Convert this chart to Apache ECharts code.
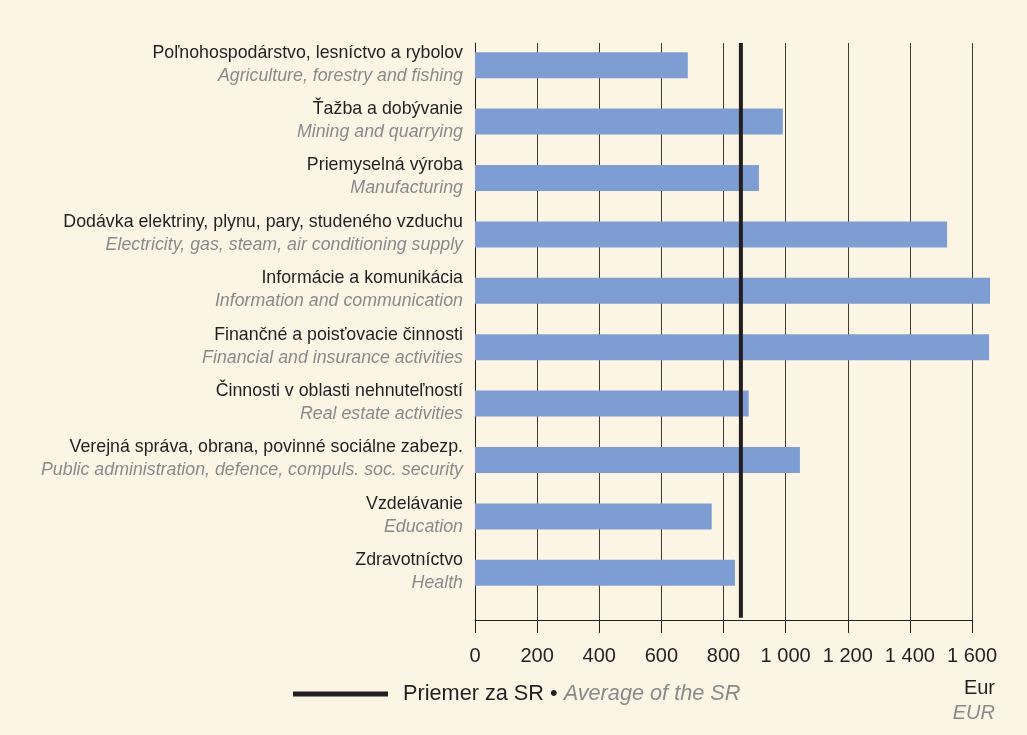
<!DOCTYPE html>
<html>
<head>
<meta charset="utf-8">
<script src="https://cdn.jsdelivr.net/npm/echarts@6/dist/echarts.min.js"></script>
<style>
  html, body { margin: 0; padding: 0; background: #fdf5e4; }
  #chart { width: 1027px; height: 735px; }
</style>
</head>
<body>
<div id="chart"></div>
<script>
// sectors, Slovak / English
const sectorsSk = [
    'Poľnohospodárstvo, lesníctvo a rybolov',
    'Ťažba a dobývanie',
    'Priemyselná výroba',
    'Dodávka elektriny, plynu, pary, studeného vzduchu',
    'Informácie a komunikácia',
    'Finančné a poisťovacie činnosti',
    'Činnosti v oblasti nehnuteľností',
    'Verejná správa, obrana, povinné sociálne zabezp.',
    'Vzdelávanie',
    'Zdravotníctvo'
];
const sectorsEn = [
    'Agriculture, forestry and fishing',
    'Mining and quarrying',
    'Manufacturing',
    'Electricity, gas, steam, air conditioning supply',
    'Information and communication',
    'Financial and insurance activities',
    'Real estate activities',
    'Public administration, defence, compuls. soc. security',
    'Education',
    'Health'
];
const wages = [685, 991, 914, 1520, 1658, 1655, 881, 1046, 762, 837];
const averageSR = 856;
const tickLabels = ['0', '200', '400', '600', '800', '1 000', '1 200', '1 400', '1 600'];
const legendSk = 'Priemer za SR • ';
const legendEn = 'Average of the SR';
const unitSk = 'Eur';
const unitEn = 'EUR';

const FONT = '"Liberation Sans", Arial, sans-serif';
const INK = '#231f20';
const GREY = '#8a8a8a';

const chart = echarts.init(document.getElementById('chart'), null, { renderer: 'canvas' });

chart.setOption({
    backgroundColor: '#fdf5e4',
    animation: false,
    textStyle: { fontFamily: FONT },
    grid: [
        { left: 475, right: 55, top: 37, bottom: 134 },
        { left: 475, right: 55, top: 43, bottom: 115 }
    ],
    xAxis: [
        { gridIndex: 0, type: 'value', min: 0, max: 1600, show: false },
        {
            gridIndex: 1, type: 'value', min: 0, max: 1600, interval: 200,
            axisLine: { lineStyle: { color: INK, width: 1 } },
            axisTick: { length: 13, lineStyle: { color: INK } },
            axisLabel: {
                margin: 26, fontSize: 20, color: INK, fontFamily: FONT,
                formatter: v => tickLabels[Math.round(v / 200)]
            },
            splitLine: { lineStyle: { color: '#3d3936', width: 1 } }
        }
    ],
    yAxis: [
        {
            gridIndex: 0, type: 'category', inverse: true, data: sectorsSk,
            axisLine: { show: false }, axisTick: { show: false },
            axisLabel: {
                margin: 12, align: 'right', padding: [0, 0, 2, 0],
                formatter: (v, i) => '{a|' + v + '}\n{b|' + sectorsEn[i] + '}',
                rich: {
                    a: { fontSize: 17.8, color: INK, lineHeight: 23, fontFamily: FONT, align: 'right' },
                    b: { fontSize: 17.8, color: GREY, fontStyle: 'italic', lineHeight: 23, fontFamily: FONT, align: 'right' }
                }
            }
        },
        {
            gridIndex: 1, type: 'value', min: 0, max: 1,
            axisLine: { show: true, lineStyle: { color: INK, width: 1 } },
            axisTick: { show: false }, axisLabel: { show: false }, splitLine: { show: false }
        }
    ],
    legend: {
        left: 288, top: 678,
        icon: 'rect', itemWidth: 95, itemHeight: 5,
        data: ['avg'],
        formatter: () => '{a|' + legendSk + '}{b|' + legendEn + '}',
        textStyle: {
            rich: {
                a: { fontSize: 21.7, color: INK, fontFamily: FONT, padding: [0, 0, 0, 10] },
                b: { fontSize: 21.7, color: GREY, fontStyle: 'italic', fontFamily: FONT }
            }
        }
    },
    graphic: [
        { type: 'text', right: 32, top: 678, style: { text: unitSk, fontSize: 20, fill: INK, fontFamily: FONT } },
        { type: 'text', right: 32, top: 703, style: { text: unitEn, fontSize: 20, fill: GREY, fontStyle: 'italic', fontFamily: FONT } }
    ],
    series: [
        {
            type: 'bar', xAxisIndex: 0, yAxisIndex: 0,
            data: wages, barWidth: 26, clip: false,
            itemStyle: { color: '#7e9ed3' }
        },
        {
            name: 'avg', type: 'line', xAxisIndex: 1, yAxisIndex: 1,
            data: [[averageSR, 0.004], [averageSR, 1]],
            symbol: 'none', lineStyle: { color: INK, width: 4 }, itemStyle: { color: INK },
            z: 5
        }
    ]
});
</script>
</body>
</html>
